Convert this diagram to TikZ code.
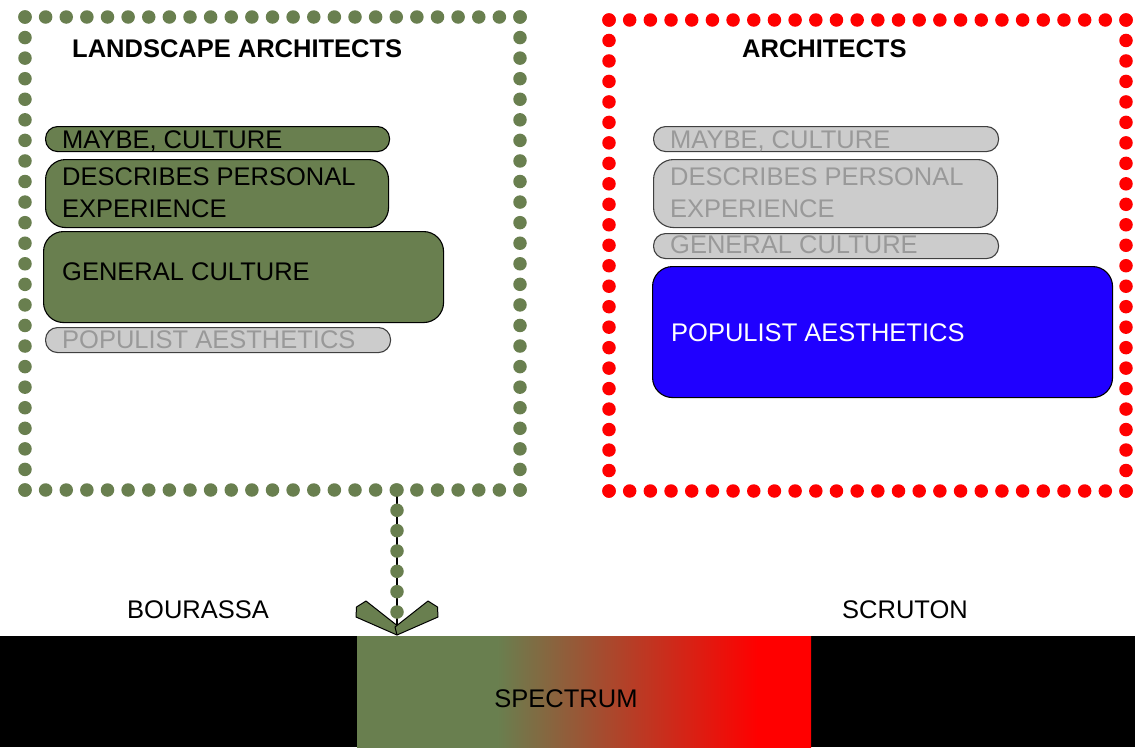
\documentclass[tikz,border=0pt]{standalone}
\usepackage{fontspec}
\setmainfont{Liberation Sans}
\usetikzlibrary{calc}
\definecolor{leaf}{RGB}{105,127,79}
\definecolor{paleg}{RGB}{204,204,204}
\definecolor{dimtext}{RGB}{153,153,153}
\definecolor{vivblue}{RGB}{32,0,255}
\begin{document}
\begin{tikzpicture}[x=1pt,y=-1pt,
  every node/.style={font=\fontsize{25.5pt}{31pt}\selectfont, inner sep=0pt},
  title/.style={font=\fontsize{25.5pt}{31pt}\selectfont\bfseries, anchor=base west},
  txt/.style={anchor=base west},
  pill/.style={draw=black, line width=1.1pt, rounded corners=#1, anchor=north west},
  greybox/.style={pill=#1, fill=paleg, draw=black!75},
  beads/.style n args={2}{draw=#1, line width=13.5pt, line cap=round, dash pattern=on 0pt off #2},
]
\useasboundingbox[fill=white] (0,0) rectangle (1135,747);

% ---- dotted frames ----
\coordinate (la) at (25,17);  \coordinate (lb) at (520,17);
\coordinate (lc) at (520,490); \coordinate (ld) at (25,490);
\draw[beads={leaf}{20.625pt}] (la) -- (lb);
\draw[beads={leaf}{20.565pt}] (lb) -- (lc);
\draw[beads={leaf}{20.625pt}] (lc) -- (ld);
\draw[beads={leaf}{20.565pt}] (ld) -- (la);

\coordinate (ra) at (609,20);  \coordinate (rb) at (1126,20);
\coordinate (rc) at (1126,491); \coordinate (rd) at (609,491);
\draw[beads={red}{20.68pt}] (ra) -- (rb);
\draw[beads={red}{20.478pt}] (rb) -- (rc);
\draw[beads={red}{20.68pt}] (rc) -- (rd);
\draw[beads={red}{20.478pt}] (rd) -- (ra);

% ---- titles ----
\node[title] (ltitle) at (72,57) {LANDSCAPE ARCHITECTS};
\node[title] (rtitle) at (742,57) {ARCHITECTS};

% ---- left column ----
\node[pill=12pt, fill=leaf, minimum width=344pt, minimum height=25pt] (lm) at (45,126) {};
\node[pill=20pt, fill=leaf, minimum width=343pt, minimum height=68pt] (ld1) at (45,159) {};
\node[pill=20pt, fill=leaf, minimum width=400pt, minimum height=91pt] (lg) at (43,231) {};
\node[greybox=12pt, minimum width=345pt, minimum height=25pt] (lp) at (45,327) {};
\node[txt] (lmt) at (62,148) {MAYBE, CULTURE};
\node[txt] (ldt1) at (62,185) {DESCRIBES PERSONAL};
\node[txt] (ldt2) at (62,217) {EXPERIENCE};
\node[txt] (lgt) at (62,280) {GENERAL CULTURE};
\node[txt, text=dimtext] (lpt) at (62,348) {POPULIST AESTHETICS};

% ---- right column ----
\node[greybox=12pt, minimum width=345pt, minimum height=25pt] (rm) at (653,126) {};
\node[greybox=20pt, minimum width=344pt, minimum height=68pt] (rd1) at (653,159) {};
\node[greybox=12pt, minimum width=345pt, minimum height=25pt] (rg) at (653,233) {};
\node[pill=20pt, fill=vivblue, minimum width=460pt, minimum height=131pt] (rp) at (652,266) {};
\node[txt, text=dimtext] (rmt) at (670,148) {MAYBE, CULTURE};
\node[txt, text=dimtext] (rdt1) at (670,185) {DESCRIBES PERSONAL};
\node[txt, text=dimtext] (rdt2) at (670,217) {EXPERIENCE};
\node[txt, text=dimtext] (rgt) at (670,253) {GENERAL CULTURE};
\node[txt, text=white] (rpt) at (671,341) {POPULIST AESTHETICS};

% ---- spectrum bar ----
\fill[black] (0,636) rectangle (1135,747);
\begin{scope}
  \clip (357,636) rectangle (811,747);
  \fill[leaf] (350,630) rectangle (498,760);
  \shade[left color=leaf, right color=red] (497,630) rectangle (758,760);
  \fill[red] (757,630) rectangle (820,760);
\end{scope}
\node[anchor=base] (spec) at (566,707) {SPECTRUM};
\node[txt] (bour) at (127,618) {BOURASSA};
\node[txt] (scru) at (842,618) {SCRUTON};

% ---- dotted connector with open head ----
\coordinate (src) at (397,490);
\coordinate (tip) at (397,635);
\coordinate (lastbead) at (397,612);
\draw[black, line width=1.5pt] (src) -- (tip);
\draw[beads={leaf}{20.333pt}] (src) -- (lastbead);
\filldraw[fill=leaf, draw=black, line width=1pt, line join=round]
  (tip) -- (356,617) -- (356.5,607) -- (366,601) -- (399,627) -- cycle;
\filldraw[fill=leaf, draw=black, line width=1pt, line join=round]
  (tip) -- (438,617) -- (437.5,607) -- (428,601) -- (395,627) -- cycle;
\end{tikzpicture}
\end{document}
